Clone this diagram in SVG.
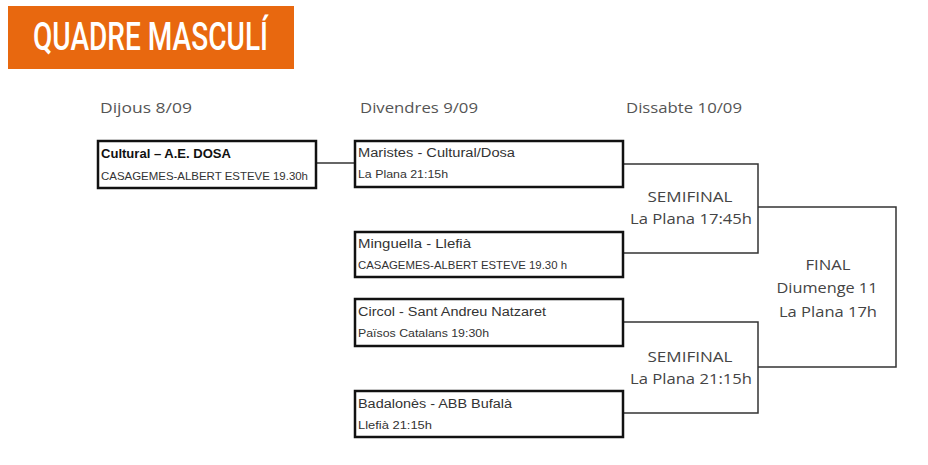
<svg xmlns="http://www.w3.org/2000/svg" width="928" height="465" viewBox="0 0 928 465">
<style>
.date{font-family:"Open Sans","DejaVu Sans",sans-serif;font-size:14px;fill:#555}
.box{fill:#fff;stroke:#111;stroke-width:2.5}
.t1{font-family:"Liberation Sans",Arial,sans-serif;font-size:12px;fill:#333}
.t2{font-family:"Liberation Sans",Arial,sans-serif;font-size:10.5px;fill:#333}
.b{font-weight:bold;fill:#111}
.lbl{font-family:"Open Sans","DejaVu Sans",sans-serif;font-size:14px;fill:#444;text-anchor:middle}
.con{fill:none;stroke:#333;stroke-width:1.5}
</style>
<rect width="928" height="465" fill="#fff"/>
<g id="title">
<rect x="8" y="6" width="286" height="63" fill="#E8680F"/>
<text x="33" y="50" font-family="Roboto,'Liberation Sans',sans-serif" font-size="38" font-weight="500" fill="#fff" textLength="235" lengthAdjust="spacingAndGlyphs">QUADRE MASCULÍ</text>
</g>
<g id="dates">
<text class="date" x="100" y="113" textLength="92" lengthAdjust="spacingAndGlyphs">Dijous 8/09</text>
<text class="date" x="360" y="113" textLength="118" lengthAdjust="spacingAndGlyphs">Divendres 9/09</text>
<text class="date" x="626" y="113" textLength="116" lengthAdjust="spacingAndGlyphs">Dissabte 10/09</text>
</g>
<g id="connectors">
<path class="con" d="M316 163H355"/>
<path class="con" d="M623 164H758V253H623"/>
<path class="con" d="M623 322H758V413H623"/>
<path class="con" d="M758 207H896V367H758"/>
</g>
<g id="m1">
<rect class="box" x="98" y="141" width="218" height="47"/>
<text class="t1 b" x="101" y="158" textLength="130" lengthAdjust="spacingAndGlyphs">Cultural – A.E. DOSA</text>
<text class="t2" x="101" y="180" textLength="207" lengthAdjust="spacingAndGlyphs">CASAGEMES-ALBERT ESTEVE 19.30h</text>
</g>
<g id="m2">
<rect class="box" x="355" y="141" width="268" height="46"/>
<text class="t1" x="358" y="157" textLength="157" lengthAdjust="spacingAndGlyphs">Maristes - Cultural/Dosa</text>
<text class="t2" x="358" y="178" textLength="90" lengthAdjust="spacingAndGlyphs">La Plana 21:15h</text>
</g>
<g id="m3">
<rect class="box" x="355" y="232" width="268" height="45"/>
<text class="t1" x="358" y="248" textLength="113" lengthAdjust="spacingAndGlyphs">Minguella - Llefià</text>
<text class="t2" x="358" y="269" textLength="209" lengthAdjust="spacingAndGlyphs">CASAGEMES-ALBERT ESTEVE 19.30 h</text>
</g>
<g id="m4">
<rect class="box" x="355" y="299" width="268" height="47"/>
<text class="t1" x="358" y="316" textLength="188" lengthAdjust="spacingAndGlyphs">Circol - Sant Andreu Natzaret</text>
<text class="t2" x="358" y="337" textLength="131" lengthAdjust="spacingAndGlyphs">Països Catalans 19:30h</text>
</g>
<g id="m5">
<rect class="box" x="355" y="391" width="268" height="46"/>
<text class="t1" x="358" y="408" textLength="154" lengthAdjust="spacingAndGlyphs">Badalonès - ABB Bufalà</text>
<text class="t2" x="358" y="429" textLength="74" lengthAdjust="spacingAndGlyphs">Llefià 21:15h</text>
</g>
<g id="semi1">
<text class="lbl" x="690" y="202" textLength="85" lengthAdjust="spacingAndGlyphs">SEMIFINAL</text>
<text class="lbl" x="691" y="224" textLength="122" lengthAdjust="spacingAndGlyphs">La Plana 17:45h</text>
</g>
<g id="semi2">
<text class="lbl" x="690" y="362" textLength="85" lengthAdjust="spacingAndGlyphs">SEMIFINAL</text>
<text class="lbl" x="691" y="384" textLength="122" lengthAdjust="spacingAndGlyphs">La Plana 21:15h</text>
</g>
<g id="final">
<text class="lbl" x="828" y="270" textLength="45" lengthAdjust="spacingAndGlyphs">FINAL</text>
<text class="lbl" x="827" y="293" textLength="101" lengthAdjust="spacingAndGlyphs">Diumenge 11</text>
<text class="lbl" x="828" y="317" textLength="98" lengthAdjust="spacingAndGlyphs">La Plana 17h</text>
</g>
</svg>
